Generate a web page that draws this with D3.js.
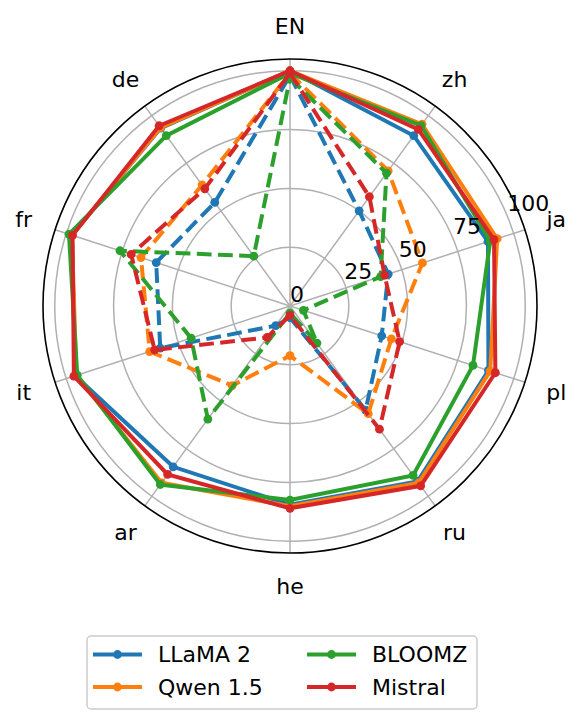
<!DOCTYPE html>
<html>
<head>
<meta charset="utf-8">
<script src="https://cdn.jsdelivr.net/npm/d3@7/dist/d3.min.js"></script>
<style>
body { margin: 0; background: #fff; }
text { font-family: "DejaVu Sans", sans-serif; }
</style>
</head>
<body>
<div id="chart"></div>
<script>
// languages, clockwise from the top
var langs = ["EN", "zh", "ja", "pl", "ru", "he", "ar", "it", "fr", "de"];
var models = ["LLaMA 2", "Qwen 1.5", "BLOOMZ", "Mistral"];
var colors = ["#1f77b4", "#ff7f0e", "#2ca02c", "#d62728"];
var rTicks = [0, 25, 50, 75, 100];

// solid lines
var llamaSolid   = [100, 89.5, 88.5, 88.7, 92.2, 84.5, 84.5, 96.0, 97.5, 93.5];
var qwenSolid    = [100, 95.5, 92.6, 89.5, 93.0, 85.1, 92.9, 95.5, 97.5, 93.7];
var bloomzSolid  = [99,  94.8, 89.5, 81.8, 89.0, 82.5, 93.8, 95.1, 98.8, 89.5];
var mistralSolid = [100, 92.8, 91.2, 91.8, 94.5, 86.0, 88.5, 96.6, 97.2, 94.7];

// dashed lines
var llamaDash   = [98, 50.0, 43.9, 41.0, 54.7, 5.0, 10.3, 58.0, 59.8, 54.4];
var qwenDash    = [99, 71.0, 59.2, 45.3, 56.6, 21.1, 41.8, 62.7, 66.6, 63.6];
var bloomzDash  = [97, 69.8, 40.5, 6.0, 19.5, 3.0, 59.4, 44.2, 76.0, 26.2];
var mistralDash = [99, 57.4, 42.3, 49.0, 64.7, 4.0, 16.5, 60.5, 71.0, 61.6];

var solids = [llamaSolid, qwenSolid, bloomzSolid, mistralSolid];
var dashes = [llamaDash, qwenDash, bloomzDash, mistralDash];

var width = 582, height = 725;
var cx = 290, cy = 306;

var svg = d3.select("#chart").append("svg")
    .attr("width", width).attr("height", height);

var r = d3.scaleLinear().domain([0, 105]).range([0, 247]);
var angle = d3.scaleLinear().domain([0, langs.length]).range([0, 2 * Math.PI]);

var g = svg.append("g").attr("transform", "translate(" + cx + "," + cy + ")");

// grid rings
g.selectAll("circle.ring")
  .data(rTicks.filter(function(d) { return d > 0; }))
  .enter().append("circle")
    .attr("class", "ring")
    .attr("r", function(d) { return r(d); })
    .attr("fill", "none")
    .attr("stroke", "#b0b0b0")
    .attr("stroke-width", 1.5);

// spokes
g.selectAll("line.spoke")
  .data(langs)
  .enter().append("line")
    .attr("class", "spoke")
    .attr("x1", 0).attr("y1", 0)
    .attr("x2", function(d, i) { return r(105) * Math.sin(angle(i)); })
    .attr("y2", function(d, i) { return -r(105) * Math.cos(angle(i)); })
    .attr("stroke", "#b0b0b0")
    .attr("stroke-width", 1.5);

// outer spine
g.append("circle")
    .attr("r", r(105))
    .attr("fill", "none")
    .attr("stroke", "black")
    .attr("stroke-width", 1.6);

var line = d3.lineRadial()
    .angle(function(d, i) { return angle(i); })
    .radius(function(d) { return r(d); })
    .curve(d3.curveLinearClosed);

function drawSeries(values, color, dashed) {
  g.append("path")
    .datum(values)
    .attr("d", line)
    .attr("fill", "none")
    .attr("stroke", color)
    .attr("stroke-width", 4)
    .attr("stroke-dasharray", dashed ? "14.8,6.4" : null);
  g.append("g").selectAll("circle")
    .data(values)
    .enter().append("circle")
      .attr("cx", function(d, i) { return r(d) * Math.sin(angle(i)); })
      .attr("cy", function(d, i) { return -r(d) * Math.cos(angle(i)); })
      .attr("r", 4.4)
      .attr("fill", color);
}

models.forEach(function(m, k) {
  drawSeries(solids[k], colors[k], false);
  drawSeries(dashes[k], colors[k], true);
});

// language labels
g.selectAll("text.lang")
  .data(langs)
  .enter().append("text")
    .attr("class", "lang")
    .attr("x", function(d, i) { return 280 * Math.sin(angle(i)); })
    .attr("y", function(d, i) { return -280 * Math.cos(angle(i)); })
    .attr("dy", "0.36em")
    .attr("text-anchor", "middle")
    .attr("font-size", 22)
    .text(function(d) { return d; });

// radial tick labels at 22.5 deg above east
var ra = 22.5 * Math.PI / 180;
g.selectAll("text.rtick")
  .data(rTicks)
  .enter().append("text")
    .attr("class", "rtick")
    .attr("x", function(d) { return r(d) * Math.cos(ra); })
    .attr("y", function(d) { return -r(d) * Math.sin(ra) - 4.5; })
    .attr("font-size", 22)
    .text(function(d) { return d; });

// legend
var legend = svg.append("g").attr("transform", "translate(87,636)");
legend.append("rect")
    .attr("width", 390).attr("height", 73)
    .attr("rx", 4)
    .attr("fill", "white")
    .attr("stroke", "#cccccc")
    .attr("stroke-width", 1.5);

var items = legend.selectAll("g.item")
  .data(models)
  .enter().append("g")
    .attr("class", "item")
    .attr("transform", function(d, i) {
      return "translate(" + (6 + Math.floor(i / 2) * 214) + "," + (18.5 + (i % 2) * 32.5) + ")";
    });
items.append("line")
    .attr("x1", 0).attr("x2", 49).attr("y1", 0).attr("y2", 0)
    .attr("stroke", function(d, i) { return colors[i]; })
    .attr("stroke-width", 4);
items.append("circle")
    .attr("cx", 24.5).attr("cy", 0).attr("r", 4.4)
    .attr("fill", function(d, i) { return colors[i]; });
items.append("text")
    .attr("x", 65).attr("y", 0).attr("dy", "0.36em")
    .attr("font-size", 22)
    .text(function(d) { return d; });
</script>
</body>
</html>
